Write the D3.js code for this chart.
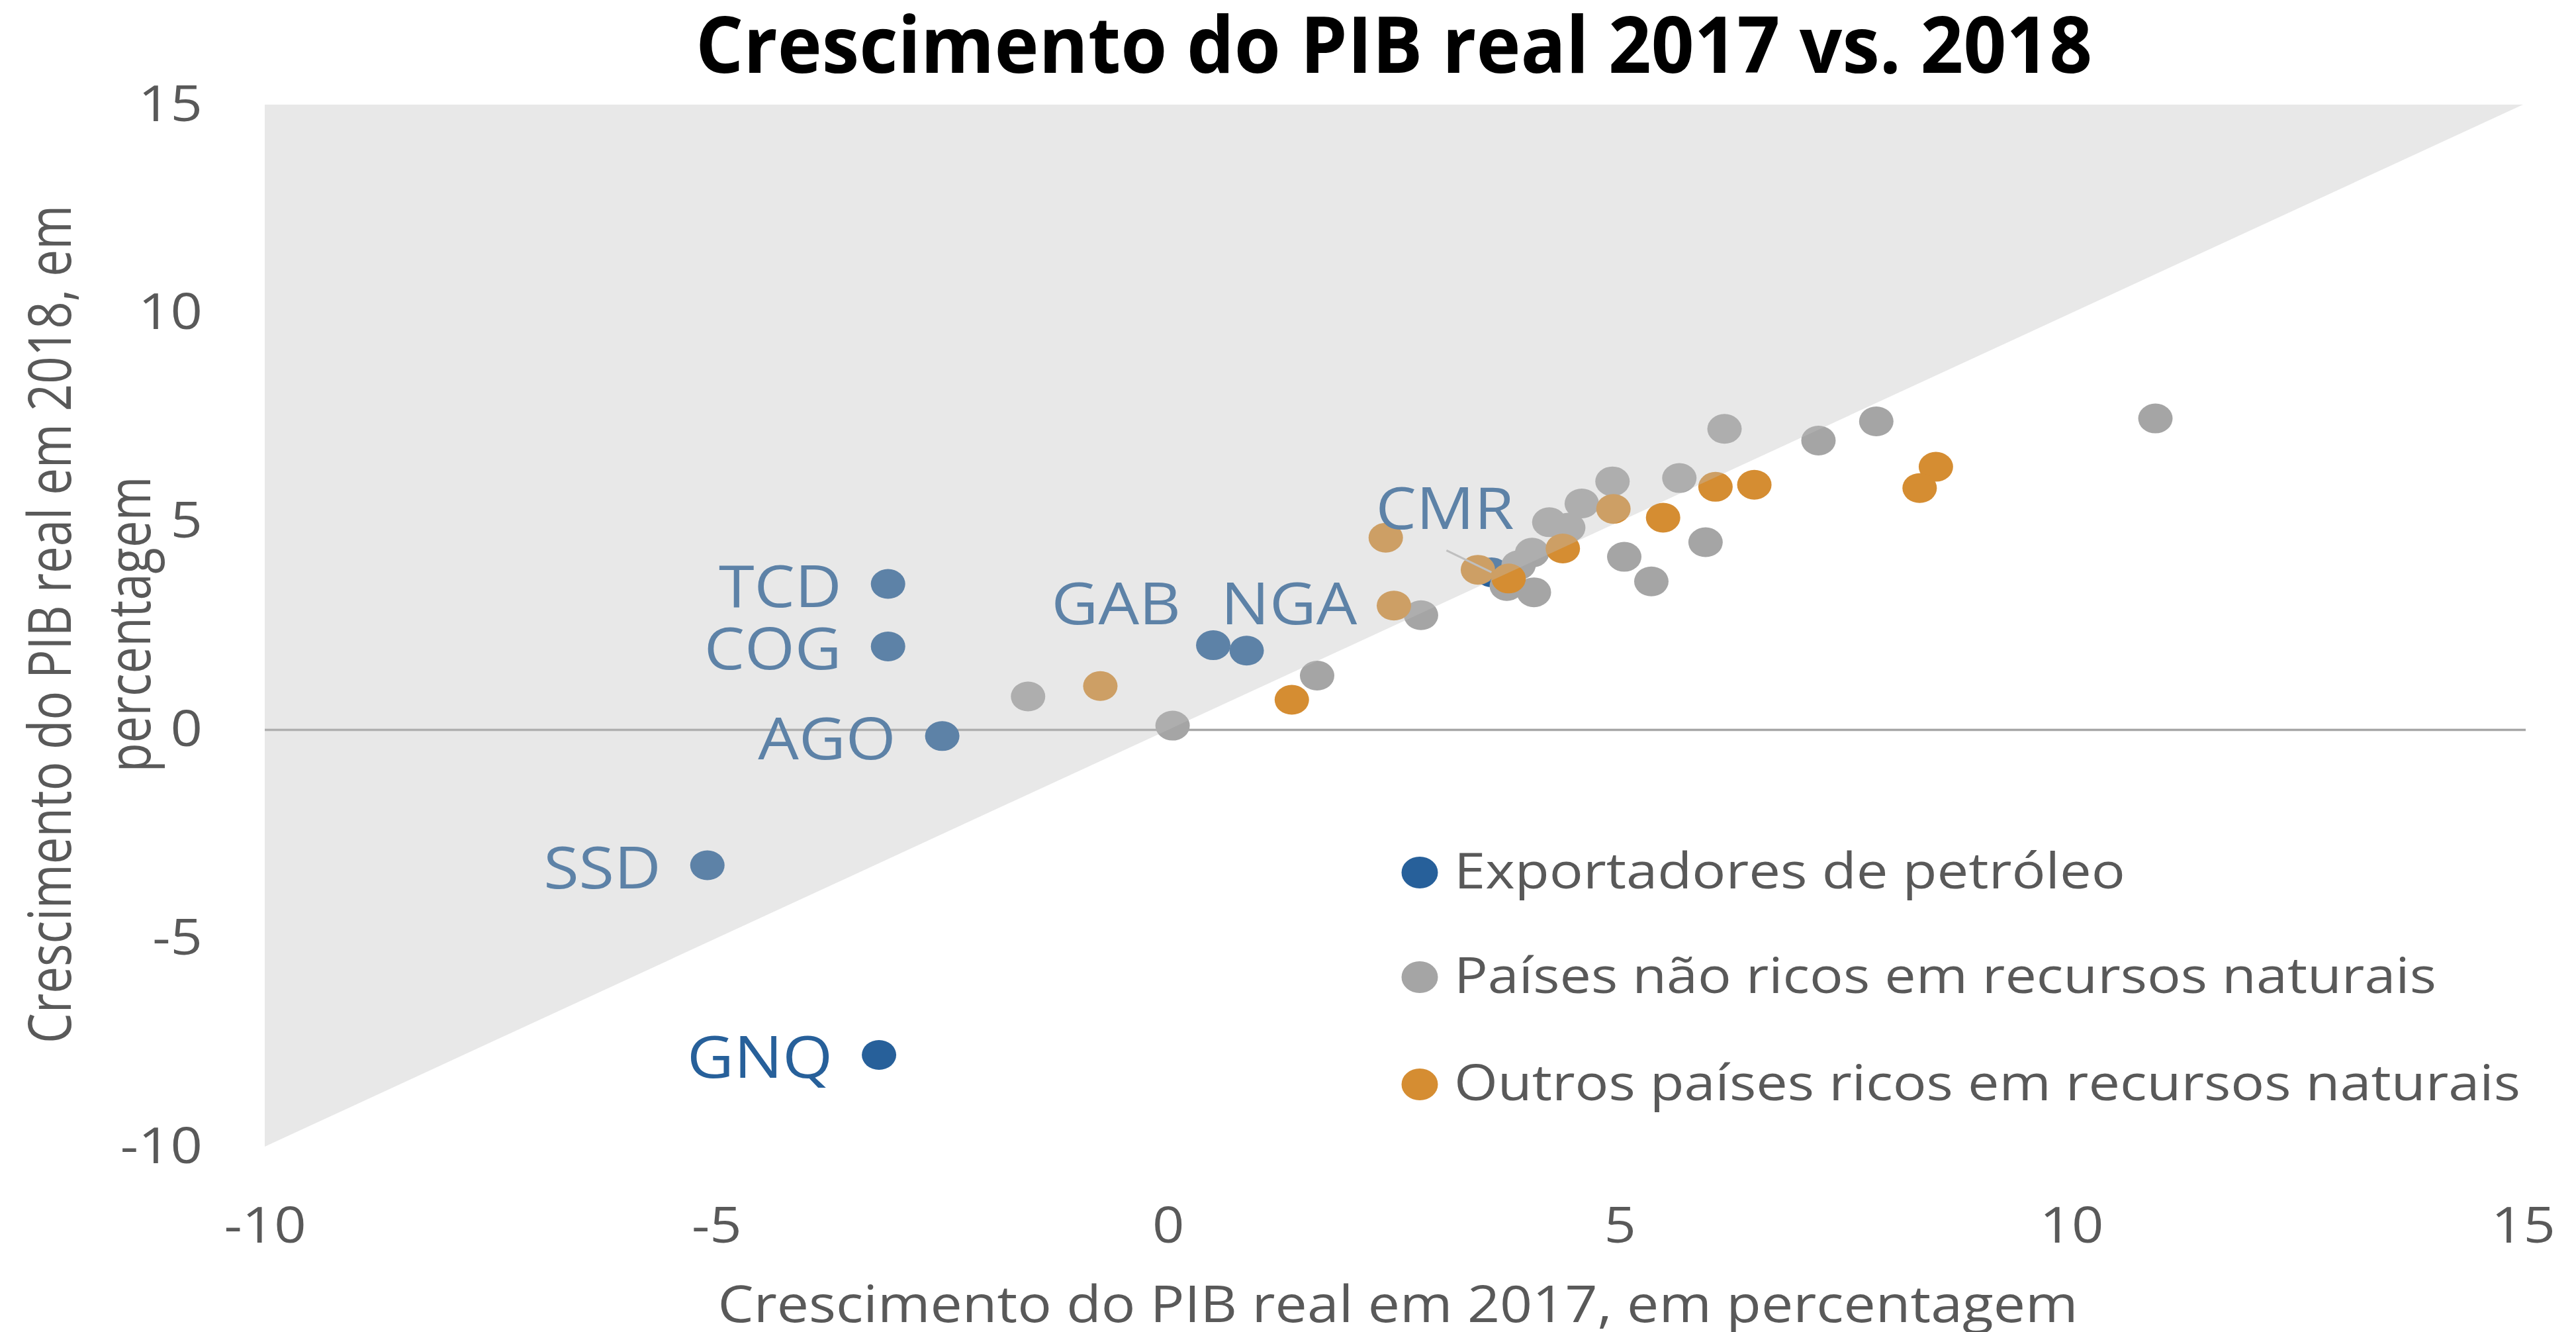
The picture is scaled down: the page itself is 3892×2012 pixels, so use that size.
<!DOCTYPE html>
<html>
<head>
<meta charset="utf-8">
<script src="https://cdn.jsdelivr.net/npm/d3@7/dist/d3.min.js"></script>
<style>
  html, body { margin: 0; padding: 0; background: #fff; }
  svg { display: block; font-family: "Open Sans", "DejaVu Sans", sans-serif; }
</style>
</head>
<body>
<svg id="chart"></svg>
<script>
// ---- dados ----
const chartTitle = "Crescimento do PIB real 2017 vs. 2018";
const xTitle = "Crescimento do PIB real em 2017, em percentagem";
const yTitleLines = ["Crescimento do PIB real em 2018, em", "percentagem"];
const xTicks = [-10, -5, 0, 5, 10, 15];
const yTicks = [-10, -5, 0, 5, 10, 15];
const seriesNames = [
  "Exportadores de petróleo",
  "Países não ricos em recursos naturais",
  "Outros países ricos em recursos naturais"
];

// exportadores de petróleo (com rótulo)
const petroCodes = ["TCD", "COG", "AGO", "SSD", "GNQ", "GAB", "NGA", "CMR"];
const petro2017 = [-3.1, -3.1, -2.5, -5.1, -3.2, 0.5, 0.87, 3.58];
const petro2018 = [3.5, 2.0, -0.15, -3.25, -7.8, 2.03, 1.9, 3.78];

// países não ricos em recursos naturais
const naoRicos2017 = [-1.55, 0.05, 1.65, 2.8, 3.75, 4.05, 4.03, 3.88, 4.22, 4.43, 4.58, 4.92, 5.66, 5.95, 5.05, 5.35, 6.16, 7.2, 7.84, 10.93];
const naoRicos2018 = [0.8, 0.1, 1.3, 2.75, 3.45, 3.3, 4.25, 3.95, 4.98, 4.85, 5.43, 5.96, 6.04, 4.5, 4.15, 3.56, 7.22, 6.94, 7.4, 7.47];

// outros países ricos em recursos naturais
const outros2017 = [-0.75, 1.37, 2.41, 2.5, 3.43, 3.77, 4.37, 4.93, 5.48, 6.06, 6.49, 8.5, 8.32];
const outros2018 = [1.05, 0.72, 4.61, 2.98, 3.84, 3.63, 4.35, 5.3, 5.09, 5.83, 5.88, 6.31, 5.8];

// ---- layout ----
const W = 3892, H = 2012;
const plot = { left: 400, right: 3812, top: 158, bottom: 1732 };
const colors = ["#27609A", "#A5A5A5", "#D58D32"];
const textGrey = "#595959";
const SX = 1.13; // o original está esticado na horizontal
const dotRx = 26, dotRy = 22.5;

// posição dos rótulos relativamente ao ponto
const labelPos = {
  GAB: { dx: -49, dy: -32, anchor: "end" },
  NGA: { dx: -39, dy: -40, anchor: "start" },
  CMR: { dx: -175, dy: -65, anchor: "start", leader: [-68, -33] }
};

const svg = d3.select("#chart").attr("width", W).attr("height", H);

const x = d3.scaleLinear().domain([-10, 15]).range([plot.left, plot.right]);
const y = d3.scaleLinear().domain([-10, 15]).range([plot.bottom, plot.top]);

function stretch(sel, k) {
  sel.each(function () {
    const w = this.getComputedTextLength();
    d3.select(this).attr("textLength", w * k).attr("lengthAdjust", "spacingAndGlyphs");
  });
}
function fitTo(sel, len) {
  sel.attr("textLength", len).attr("lengthAdjust", "spacingAndGlyphs");
}

// título
svg.append("text")
  .attr("x", (plot.left + plot.right) / 2).attr("y", 110)
  .attr("text-anchor", "middle")
  .attr("font-size", 119).attr("font-weight", 700).attr("fill", "#000")
  .text(chartTitle)
  .call(fitTo, 2110);

// linha do zero
svg.append("line")
  .attr("x1", plot.left).attr("x2", plot.right + 4)
  .attr("y1", y(0)).attr("y2", y(0))
  .attr("stroke", "#A6A6A6").attr("stroke-width", 3.5);

// pontos: azul por baixo, depois cinzento, depois laranja
const petro = petroCodes.map((c, i) => ({ code: c, x: petro2017[i], y: petro2018[i] }));
const naoRicos = naoRicos2017.map((v, i) => ({ x: v, y: naoRicos2018[i] }));
const outros = outros2017.map((v, i) => ({ x: v, y: outros2018[i] }));

const gDots = svg.append("g");
[petro, naoRicos, outros].forEach((data, k) => {
  gDots.append("g").selectAll("ellipse").data(data).join("ellipse")
    .attr("cx", d => x(d.x)).attr("cy", d => y(d.y))
    .attr("rx", dotRx).attr("ry", dotRy)
    .attr("fill", colors[k]);
});

// rótulos dos exportadores
const gLab = svg.append("g").attr("font-size", 87).attr("fill", colors[0]);
petro.forEach(d => {
  const p = labelPos[d.code] || { dx: -70, dy: 35, anchor: "end" };
  if (p.leader) {
    gLab.append("line")
      .attr("x1", x(d.x) + p.leader[0]).attr("y1", y(d.y) + p.leader[1])
      .attr("x2", x(d.x)).attr("y2", y(d.y))
      .attr("stroke", "#BFBFBF").attr("stroke-width", 3);
  }
  gLab.append("text")
    .attr("x", x(d.x) + p.dx).attr("y", y(d.y) + p.dy)
    .attr("text-anchor", p.anchor)
    .text(d.code)
    .call(stretch, 1.12);
});

// zona acima da diagonal (y > x), sobreposta em cinzento translúcido
svg.append("path")
  .attr("d", d3.line()([[x(-10), y(-10)], [x(-10), y(15)], [x(15), y(15)]]) + "Z")
  .attr("fill", "#BEBEBE").attr("fill-opacity", 0.36);

// eixos
const xAxis = svg.append("g")
  .attr("transform", `translate(0,${plot.bottom})`)
  .call(d3.axisBottom(x).tickValues(xTicks).tickSize(0).tickPadding(92).tickFormat(d => String(d)));
const yAxis = svg.append("g")
  .attr("transform", `translate(${plot.left},0)`)
  .call(d3.axisLeft(y).tickValues(yTicks).tickSize(0).tickPadding(94).tickFormat(d => String(d)));
[xAxis, yAxis].forEach(g => {
  g.select(".domain").remove();
  g.selectAll("text")
    .attr("font-size", 75).attr("font-family", "'Open Sans', sans-serif")
    .attr("fill", textGrey)
    .call(stretch, SX);
});

// títulos dos eixos
svg.append("text")
  .attr("x", 2112).attr("y", 1997)
  .attr("text-anchor", "middle")
  .attr("font-size", 77).attr("fill", textGrey)
  .text(xTitle)
  .call(fitTo, 2055);

const yTitleBase = [107, 227];
const yTitleLen = [1266, 447];
yTitleLines.forEach((t, i) => {
  svg.append("text")
    .attr("transform", `translate(${yTitleBase[i]},943) rotate(-90)`)
    .attr("text-anchor", "middle")
    .attr("font-size", 90).attr("fill", textGrey)
    .text(t)
    .call(fitTo, yTitleLen[i]);
});

// legenda
const legY = [1318, 1476, 1638];
const legLen = [1014, 1484, 1611];
const gLeg = svg.append("g");
seriesNames.forEach((name, i) => {
  gLeg.append("ellipse")
    .attr("cx", 2145).attr("cy", legY[i])
    .attr("rx", 27.5).attr("ry", 24)
    .attr("fill", colors[i]);
  gLeg.append("text")
    .attr("x", 2197).attr("y", legY[i] + 24)
    .attr("font-size", 75).attr("fill", textGrey)
    .text(name)
    .call(fitTo, legLen[i]);
});
</script>
</body>
</html>
